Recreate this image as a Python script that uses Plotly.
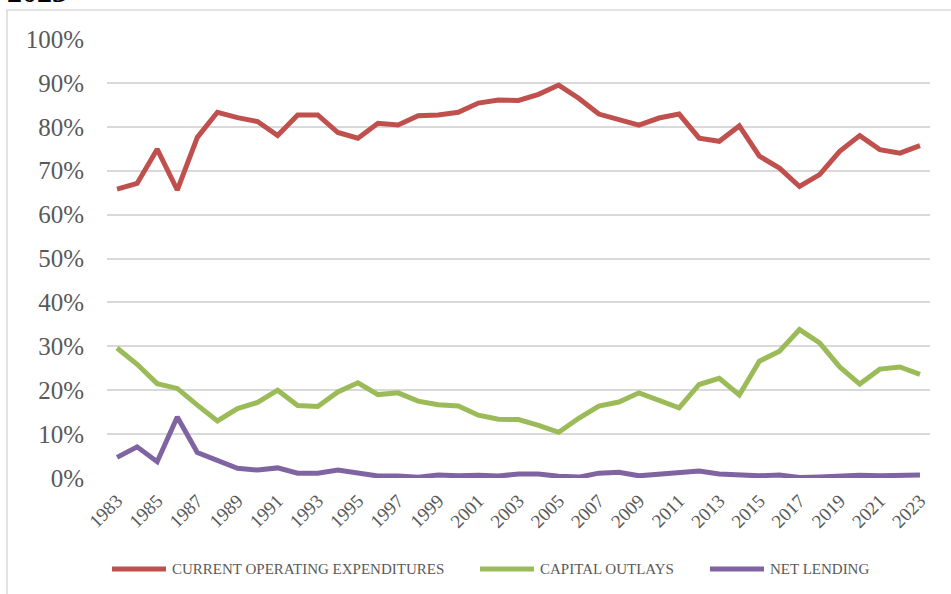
import plotly.graph_objects as go

# ---------------- data ----------------
years = list(range(1983, 2024))
series_names = ["CURRENT OPERATING EXPENDITURES", "CAPITAL OUTLAYS", "NET LENDING"]
current_operating = [65.8, 67.1, 74.9, 65.6, 77.6, 83.3, 82.1, 81.2, 78.0, 82.7,
                     82.7, 78.7, 77.4, 80.8, 80.4, 82.5, 82.7, 83.3, 85.4, 86.1,
                     86.0, 87.4, 89.5, 86.5, 82.9, 81.7, 80.4, 82.0, 82.9, 77.4,
                     76.7, 80.2, 73.3, 70.6, 66.4, 69.1, 74.4, 78.0, 74.8, 74.0, 75.7]
capital_outlays = [29.6, 25.9, 21.5, 20.4, 16.6, 13.0, 15.8, 17.2, 20.0, 16.5,
                   16.3, 19.6, 21.7, 19.0, 19.4, 17.5, 16.7, 16.4, 14.3, 13.4,
                   13.3, 12.0, 10.4, 13.6, 16.4, 17.3, 19.4, 17.7, 16.0, 21.3,
                   22.7, 18.9, 26.6, 28.9, 33.8, 30.8, 25.3, 21.4, 24.8, 25.3, 23.6]
net_lending = [4.7, 7.1, 3.7, 13.9, 5.8, 3.9, 2.2, 1.8, 2.3, 1.1,
               1.1, 1.8, 1.1, 0.45, 0.45, 0.15, 0.7, 0.5, 0.6, 0.45,
               0.9, 0.9, 0.4, 0.2, 1.1, 1.3, 0.5, 0.8, 1.3, 1.6,
               0.9, 0.8, 0.5, 0.7, 0.1, 0.2, 0.5, 0.6, 0.5, 0.7, 0.7]
x_tick_years = list(range(1983, 2024, 2))
y_tick_values = [0, 10, 20, 30, 40, 50, 60, 70, 80, 90, 100]
title_fragment = "2023"

# ---------------- style ----------------
colors = ["#C0504D", "#9BBB59", "#8064A2"]
W, H = 951, 594
# plot-area edges in window pixels (page body margin is removed below)
PL, PR, PT, PB = 107, 930, 39, 478
L, T, R, B = PL, PT, W - PR, H - PB
PW, PH = PR - PL, PB - PT
FONT = "Liberation Serif, Times New Roman, serif"
GRAY = "#595959"

def px_x(p):
    return (p - PL) / PW

def px_y(p):
    return (PB - p) / PH

fig = go.Figure()
all_series = [current_operating, capital_outlays, net_lending]
for name, vals, col in zip(series_names, all_series, colors):
    fig.add_trace(go.Scatter(
        x=years, y=[v / 100 for v in vals], name=name, mode="lines",
        line=dict(color=col, width=5), showlegend=False,
    ))

shapes = [
    dict(type="rect", xref="paper", yref="paper",
         x0=px_x(7), x1=px_x(965), y0=px_y(610), y1=px_y(10),
         line=dict(color="#D9D9D9", width=1.5), fillcolor="rgba(0,0,0,0)", layer="below"),
]
annotations = [
    dict(text="<b>" + title_fragment + "</b>", xref="paper", yref="paper",
         x=px_x(5), y=px_y(10), xanchor="left", yanchor="bottom", showarrow=False,
         font=dict(family=FONT, size=30, color="#000000")),
]
# manual legend (Excel-style long line samples)
leg_y = 569
leg_starts = [112, 480, 710]
for name, col, x0 in zip(series_names, colors, leg_starts):
    shapes.append(dict(type="line", xref="paper", yref="paper",
                       x0=px_x(x0), x1=px_x(x0 + 54), y0=px_y(leg_y), y1=px_y(leg_y),
                       line=dict(color=col, width=5)))
    annotations.append(dict(text=name, xref="paper", yref="paper",
                            x=px_x(x0 + 58), y=px_y(leg_y), xanchor="left", yanchor="middle",
                            showarrow=False, font=dict(family=FONT, size=15, color=GRAY)))

fig.update_layout(
    width=W, height=H,
    margin=dict(l=L, r=R, t=T, b=B, pad=0, autoexpand=False),
    paper_bgcolor="white", plot_bgcolor="white",
    shapes=shapes, annotations=annotations,
    xaxis=dict(range=[1982.5, 2023.5], tickvals=x_tick_years,
               ticktext=[str(y) for y in x_tick_years], tickangle=-45,
               showgrid=False, zeroline=False, showline=False,
               tickfont=dict(family=FONT, size=19, color=GRAY),
               ticks="", ticklabelstandoff=7),
    yaxis=dict(range=[0, 1], tickvals=[v / 100 for v in y_tick_values],
               ticktext=[f"{v}%" for v in y_tick_values],
               showgrid=True, gridcolor="#D9D9D9", gridwidth=1.5,
               zeroline=False, showline=False, ticks="",
               tickfont=dict(family=FONT, size=25, color=GRAY),
               ticklabelstandoff=22),
)

fig.write_html("out.html", config={"displayModeBar": False},
               post_script="document.body.style.margin='0';")
